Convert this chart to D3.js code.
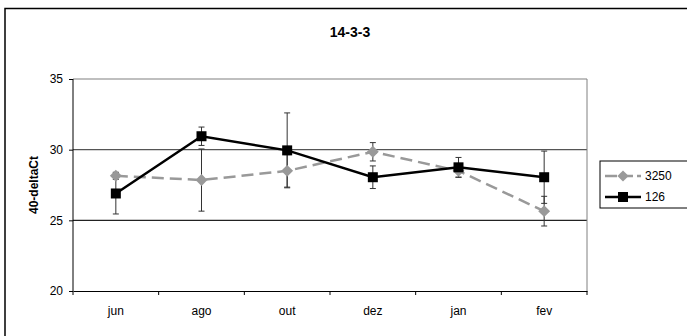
<!DOCTYPE html>
<html>
<head>
<meta charset="utf-8">
<script src="https://cdn.jsdelivr.net/npm/d3@7"></script>
<style>
  body { margin: 0; background: #fff; }
  svg { font-family: "Liberation Sans", Arial, sans-serif; }
</style>
</head>
<body>
<div id="chart"></div>
<script>
// data
var months = ["jun", "ago", "out", "dez", "jan", "fev"];
var vals3250 = [28.15, 27.85, 28.5, 29.85, 28.5, 25.65];
var err3250 = [0.25, 2.2, 1.15, 0.65, 0.45, 1.05];
var vals126 = [26.9, 30.95, 29.95, 28.05, 28.75, 28.05];
var err126 = [1.45, 0.65, 2.65, 0.8, 0.7, 1.85];
var yTicks = [20, 25, 30, 35];

var W = 687, H = 336;
var margin = {top: 79, right: 100, bottom: 45, left: 73},
    width = 587 - margin.left,
    height = 291 - margin.top;

var svg = d3.select("#chart")
    .append("svg")
    .attr("width", W)
    .attr("height", H);

// outer chart frame
svg.append("rect")
    .attr("x", 5).attr("y", 8.5)
    .attr("width", 700).attr("height", 340)
    .attr("fill", "none")
    .attr("stroke", "#000")
    .attr("stroke-width", 1.5);

svg.append("text")
    .attr("x", 350).attr("y", 37)
    .attr("text-anchor", "middle")
    .style("font-size", "14px")
    .style("font-weight", "bold")
    .text("14-3-3");

var g = svg.append("g")
    .attr("transform", "translate(" + margin.left + "," + margin.top + ")");

var x = d3.scaleBand().domain(months).range([0, width]);
var y = d3.scaleLinear().domain([20, 35]).range([height, 0]);

// gridlines
g.selectAll(".grid")
    .data(yTicks.filter(d => d > 20))
    .enter().append("line")
    .attr("x1", 0).attr("x2", width)
    .attr("y1", d => y(d)).attr("y2", d => y(d))
    .attr("stroke", d => d == 35 ? "#808080" : (d == 30 ? "#555" : "#222"))
    .attr("stroke-width", 1.2);

// plot area right border
g.append("line")
    .attr("x1", width).attr("x2", width)
    .attr("y1", 0).attr("y2", height)
    .attr("stroke", "#808080");

// axes
var xAxis = g.append("g")
    .attr("transform", "translate(0," + height + ")")
    .call(d3.axisBottom(x).tickSize(0).tickPadding(15));
xAxis.select(".domain").attr("stroke", "#000");
xAxis.selectAll("text").style("font-size", "12px").attr("fill", "#000");
// ticks between categories
xAxis.selectAll(".sep")
    .data(d3.range(months.length + 1))
    .enter().append("line")
    .attr("x1", i => i * x.step()).attr("x2", i => i * x.step())
    .attr("y1", 0).attr("y2", 4)
    .attr("stroke", "#000");

var yAxis = g.append("g")
    .call(d3.axisLeft(y).tickValues(yTicks).tickSize(4).tickPadding(6));
yAxis.select(".domain").attr("stroke", "#000").attr("d", "M0," + height + "V0");
yAxis.selectAll("text").style("font-size", "12px").attr("fill", "#000");

svg.append("text")
    .attr("transform", "translate(38," + (margin.top + height / 2) + ") rotate(-90)")
    .attr("text-anchor", "middle")
    .style("font-size", "12px")
    .style("font-weight", "bold")
    .text("40-deltaCt");

var cx = d => x(d) + x.bandwidth() / 2;

function errorBars(vals, errs) {
    var eb = g.append("g");
    vals.forEach(function(v, i) {
        var px = cx(months[i]);
        eb.append("line")
            .attr("x1", px).attr("x2", px)
            .attr("y1", y(v - errs[i])).attr("y2", y(v + errs[i]))
            .attr("stroke", "#333").attr("stroke-width", 1);
        [v - errs[i], v + errs[i]].forEach(function(e) {
            eb.append("line")
                .attr("x1", px - 3).attr("x2", px + 3)
                .attr("y1", y(e)).attr("y2", y(e))
                .attr("stroke", "#333").attr("stroke-width", 1);
        });
    });
}

errorBars(vals3250, err3250);
errorBars(vals126, err126);

var line = d3.line()
    .x((d, i) => cx(months[i]))
    .y(d => y(d));

// series 3250: dashed gray with diamonds
g.append("path")
    .datum(vals3250)
    .attr("d", line)
    .attr("fill", "none")
    .attr("stroke", "#999")
    .attr("stroke-width", 2.5)
    .attr("stroke-dasharray", "12,6");

g.selectAll(".dia")
    .data(vals3250)
    .enter().append("path")
    .attr("d", d3.symbol().type(d3.symbolDiamond2).size(90))
    .attr("transform", (d, i) => "translate(" + cx(months[i]) + "," + y(d) + ")")
    .attr("fill", "#999");

// series 126: solid black with squares
g.append("path")
    .datum(vals126)
    .attr("d", line)
    .attr("fill", "none")
    .attr("stroke", "#000")
    .attr("stroke-width", 2.5);

g.selectAll(".sq")
    .data(vals126)
    .enter().append("rect")
    .attr("x", (d, i) => cx(months[i]) - 5)
    .attr("y", d => y(d) - 5)
    .attr("width", 10).attr("height", 10)
    .attr("fill", "#000");

// legend
var legend = svg.append("g").attr("transform", "translate(600,161)");
legend.append("rect")
    .attr("width", 100).attr("height", 47)
    .attr("fill", "#fff")
    .attr("stroke", "#000");

var items = [
    {name: "3250", color: "#999", dash: "12,6", marker: "diamond"},
    {name: "126", color: "#000", dash: null, marker: "square"}
];
items.forEach(function(it, i) {
    var ly = 15 + i * 21;
    legend.append("line")
        .attr("x1", 5).attr("x2", 41)
        .attr("y1", ly).attr("y2", ly)
        .attr("stroke", it.color)
        .attr("stroke-width", 2.5)
        .attr("stroke-dasharray", it.dash ? "12,4" : null);
    if (it.marker == "diamond") {
        legend.append("path")
            .attr("d", d3.symbol().type(d3.symbolDiamond2).size(80))
            .attr("transform", "translate(23," + ly + ")")
            .attr("fill", it.color);
    } else {
        legend.append("rect")
            .attr("x", 18).attr("y", ly - 5)
            .attr("width", 10).attr("height", 10)
            .attr("fill", it.color);
    }
    legend.append("text")
        .attr("x", 45).attr("y", ly + 4)
        .style("font-size", "12px")
        .text(it.name);
});
</script>
</body>
</html>
